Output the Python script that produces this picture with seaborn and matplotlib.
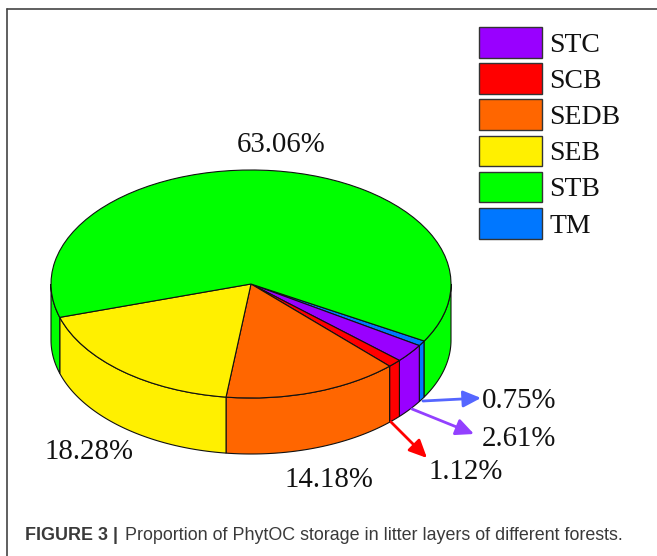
import numpy as np
import matplotlib
matplotlib.use("Agg")
import matplotlib.pyplot as plt
from matplotlib.lines import Line2D
from matplotlib.patches import Patch
import seaborn as sns

categories = ["STC", "SCB", "SEDB", "SEB", "STB", "TM"]
values = [2.61, 1.12, 14.18, 18.28, 63.06, 0.75]
colors = ["#9900FF", "#FF0000", "#FF6600", "#FFF000", "#00FF00", "#0077FF"]
pie_order = ["TM", "STC", "SCB", "SEDB", "SEB", "STB"]
caption_bold = "FIGURE 3 |"
caption_text = "Proportion of PhytOC storage in litter layers of different forests."

W, H = 657, 556
CX, CY, RX, RY, DEPTH = 251, 284, 200, 114, 56
START = -30

sns.set_theme(style="white")
plt.rcParams["font.family"] = ["Liberation Serif", "DejaVu Serif"]
palette = dict(zip(categories, sns.color_palette(colors)))
value_of = dict(zip(categories, values))

fig = plt.figure(figsize=(W / 100, H / 100), dpi=100, facecolor="white")
ax = fig.add_axes([0, 0, 1, 1])

pie_vals = [value_of[c] for c in pie_order]
pie_cols = [palette[c] for c in pie_order]


def to_x(px):
    return (px - CX) / RX


def to_y(py):
    return (CY - py) / RY


# side wall, built from the same shares as the top face
d = DEPTH / RY
angle = START
for val, col in zip(pie_vals, pie_cols):
    a0, a1 = angle - val * 3.6, angle
    angle = a0
    for lo, hi in ((a0, a1), (a0 + 360, a1 + 360), (a0 - 360, a1 - 360)):
        lo, hi = max(lo, -180), min(hi, 0)
        if hi <= lo:
            continue
        t = np.radians(np.linspace(lo, hi, 80))
        xs = np.cos(t)
        ys = np.sin(t)
        ax.fill(np.r_[xs, xs[::-1]], np.r_[ys, ys[::-1] - d],
                facecolor=col, edgecolor="#111111", linewidth=0.8, zorder=1)

wedges, _ = ax.pie(pie_vals, colors=pie_cols, startangle=START, counterclock=False,
                   radius=1, wedgeprops=dict(edgecolor="#111111", linewidth=0.8, zorder=2))
ax.set_aspect("auto")
ax.set_xlim(to_x(0), to_x(W))
ax.set_ylim(to_y(H), to_y(0))
ax.set_axis_off()

handles = [Patch(facecolor=palette[c], edgecolor="#333333", linewidth=1, label=c) for c in categories]
ax.legend(handles=handles, loc="upper left", bbox_to_anchor=(479 / W, 1 - 27 / H),
          bbox_transform=ax.transAxes, frameon=False, fontsize=20, borderpad=0,
          borderaxespad=0, handlelength=2.27, handleheight=1.32,
          labelspacing=0.2, handletextpad=0.26, labelcolor="#111111")

pct = dict(fontsize=20.8, color="#111111", va="center", zorder=5)
ax.text(to_x(281), to_y(145), "63.06%", ha="center", **pct)
ax.text(to_x(89), to_y(452), "18.28%", ha="center", **pct)
ax.text(to_x(329), to_y(480), "14.18%", ha="center", **pct)
ax.text(to_x(466), to_y(472), "1.12%", ha="center", **pct)
ax.text(to_x(519), to_y(439), "2.61%", ha="center", **pct)
ax.text(to_x(519), to_y(401), "0.75%", ha="center", **pct)

for (p0, p1, col) in (((423, 401), (481, 398), "#5566FF"),
                      ((412, 409), (474, 434), "#9340FF"),
                      ((391, 422), (427, 458), "#FF0000")):
    ax.annotate("", xy=(to_x(p1[0]), to_y(p1[1])), xytext=(to_x(p0[0]), to_y(p0[1])),
                arrowprops=dict(arrowstyle="-|>,head_length=0.9,head_width=0.42", color=col,
                                lw=2, shrinkA=0, shrinkB=0), zorder=4)

for xs, ys in (((7 / W, 7 / W), (0, 1 - 9 / H)), ((7 / W, 1), (1 - 9 / H, 1 - 9 / H))):
    fig.add_artist(Line2D(xs, ys, color="#444444", linewidth=1.2))

cap = dict(fontsize=12.9, color="#3a3a3a", family="Liberation Sans", va="center")
ax.text(to_x(25), to_y(536), caption_bold, fontweight="bold", **cap)
ax.text(to_x(125), to_y(536), caption_text, **cap)

fig.savefig("out.png", dpi=100)
